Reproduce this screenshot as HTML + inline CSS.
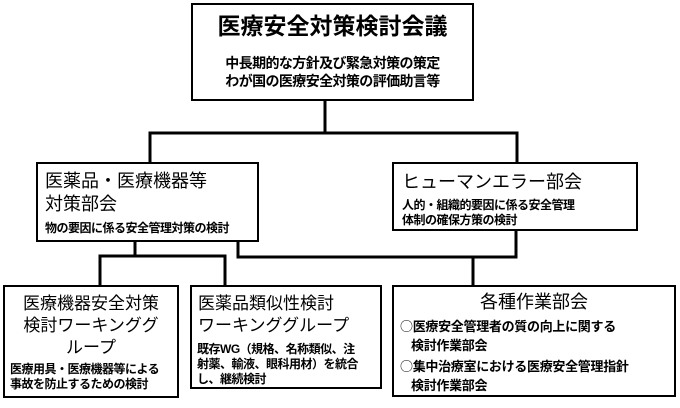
<!DOCTYPE html>
<html><head><meta charset="utf-8"><style>
body{margin:0;width:680px;height:408px;background:#fff;position:relative;overflow:hidden;font-family:"Liberation Sans","Noto Sans CJK JP",sans-serif;color:#000}
.b{position:absolute;border:2px solid #000;box-sizing:border-box;background:#fff}
.t{position:absolute;white-space:nowrap;line-height:1}
.s{font-weight:bold;font-size:12px;letter-spacing:-0.5px}
.r{font-size:13px;font-weight:bold;letter-spacing:-0.3px}
.c{font-family:'Noto Sans CJK JP',sans-serif;font-weight:normal}
</style></head><body>
<svg width="680" height="408" style="position:absolute;left:0;top:0">
<g stroke="#000" stroke-width="3" fill="none">
<line x1="325" y1="100" x2="325" y2="133"/>
<polyline points="150,162 150,133 517,133 517,162"/>
<polyline points="135,240 135,256 100,256 100,286"/>
<polyline points="135,256 225,256 225,286"/>
<polyline points="238,240 238,257 516,257 516,230"/>
<line x1="473" y1="257" x2="473" y2="286"/>
</g></svg>
<div class="b" style="left:191px;top:3px;width:283px;height:98px"></div>
<div class="t" style="left:191px;width:283px;text-align:center;top:15px;font-size:23px;font-weight:bold">医療安全対策検討会議</div>
<div class="t" style="left:191px;width:283px;text-align:center;top:54px;font-size:14px;line-height:18px;letter-spacing:-0.6px;font-weight:bold">中長期的な方針及び緊急対策の策定<br>わが国の医療安全対策の評価助言等</div>

<div class="b" style="left:36px;top:162px;width:223px;height:80px"></div>
<div class="t" style="left:45px;top:170px;font-size:18px;line-height:23px">医薬品・医療機器等<br>対策部会</div>
<div class="t s" style="left:45px;top:222px">物の要因に係る安全管理対策の検討</div>

<div class="b" style="left:392px;top:162px;width:246px;height:69px"></div>
<div class="t" style="left:402px;top:173px;font-size:18px">ヒューマンエラー部会</div>
<div class="t s" style="left:402px;top:198px;line-height:15px">人的・組織的要因に係る安全管理<br>体制の確保方策の検討</div>

<div class="b" style="left:3px;top:285px;width:176px;height:113px"></div>
<div class="t" style="left:3px;width:176px;text-align:center;top:293px;font-size:17px;line-height:22px">医療機器安全対策<br>検討ワーキンググ<br>ループ</div>
<div class="t s" style="left:10px;top:362px;line-height:15px">医療用具・医療機器等による<br>事故を防止するための検討</div>

<div class="b" style="left:190px;top:285px;width:192px;height:104px"></div>
<div class="t" style="left:198px;top:293px;font-size:17px;line-height:22px">医薬品類似性検討<br>ワーキンググループ</div>
<div class="t s" style="left:197px;top:342px;line-height:15px">既存WG（規格、名称類似、注<br>射薬、輸液、眼科用材）を統合<br>し、継続検討</div>

<div class="b" style="left:392px;top:285px;width:284px;height:112px"></div>
<div class="t" style="left:392px;width:284px;text-align:center;top:293px;font-size:18px">各種作業部会</div>
<div class="t r" style="left:400px;top:319px"><span class="c">○</span>医療安全管理者の質の向上に関する</div>
<div class="t r" style="left:411px;top:339px">検討作業部会</div>
<div class="t r" style="left:400px;top:359px"><span class="c">○</span>集中治療室における医療安全管理指針</div>
<div class="t r" style="left:411px;top:379px">検討作業部会</div>
</body></html>
